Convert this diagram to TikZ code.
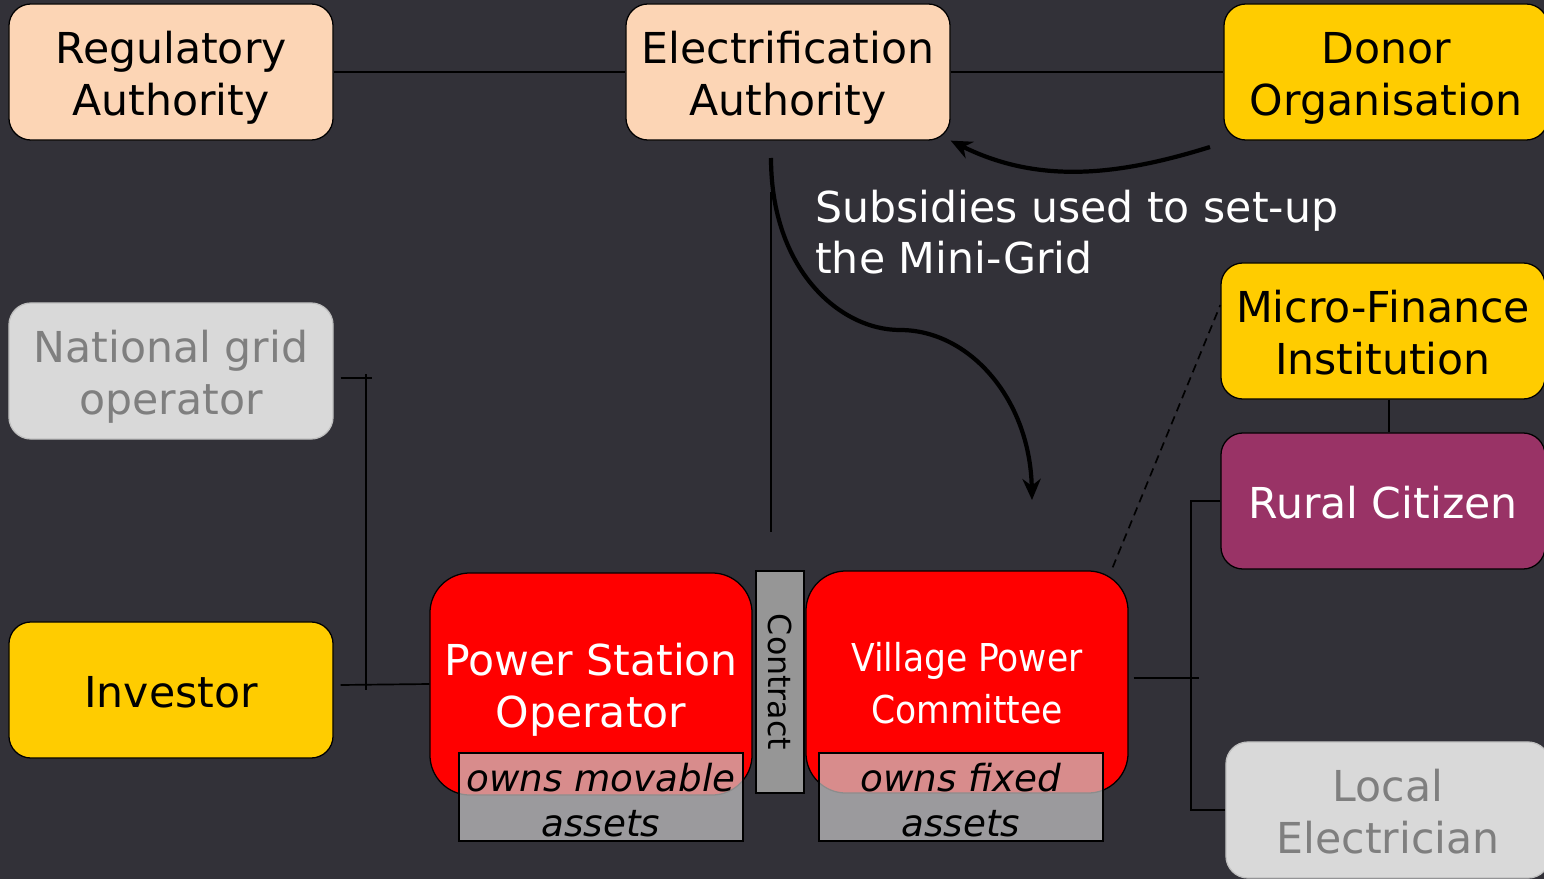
\documentclass[tikz,border=0pt]{standalone}
\usepackage{fontspec}
\setmainfont{DejaVu Sans}
\newfontfamily\condfont{DejaVu Sans Condensed}
\usetikzlibrary{arrows.meta, positioning, calc}
\definecolor{bgdark}{HTML}{323138}
\definecolor{peach}{HTML}{FCD5B5}
\definecolor{gold}{HTML}{FFCC00}
\definecolor{pale}{HTML}{D9D9D9}
\definecolor{paletext}{HTML}{7F7F7F}
\definecolor{paleline}{HTML}{BFBFBF}
\definecolor{plum}{HTML}{993366}
\definecolor{hotred}{HTML}{FF0000}
\definecolor{steel}{HTML}{969696}
\definecolor{assetgray}{HTML}{C8C8C8}
\newcommand\topstrut[1]{\rule{0pt}{#1}}
\newcommand\botstrut[1]{\rule[-#1]{0pt}{0pt}}

\begin{document}
\begin{tikzpicture}[
    x=0.025cm, y=-0.025cm,
    >=Stealth,
    strut ht/.store in=\actorstrut, strut ht=70pt,
    actor/.style={draw=black, line width=0.9pt, rounded corners=0.55cm, minimum width=8.1cm, minimum height=3.4cm,
                  inner sep=0pt, align=center, font=\fontsize{30.3}{37}\selectfont,
                  execute at begin node=\topstrut{\actorstrut}, execute at end node=\botstrut{7.5pt}},
    oneline/.style={strut ht=33pt},
    ghost/.style={actor, draw=paleline, fill=pale, text=paletext},
    core/.style={actor, fill=hotred, text=white, rounded corners=1cm, minimum width=8.05cm, minimum height=5.55cm},
    asset/.style={draw=black, line width=0.9pt, fill=assetgray, fill opacity=0.7, text opacity=1, minimum width=7.1cm,
                  minimum height=2.2cm, inner sep=0pt, align=center, font=\fontsize{26.5}{32.5}\selectfont\itshape,
                  execute at begin node=\topstrut{57pt}},
    link/.style={line width=1.2pt, black},
    flow/.style={-{Stealth[length=15pt, width=13pt]}, line width=3pt, black},
]
    \useasboundingbox (0,0) rectangle (1544,879);
    \fill[bgdark] (0,0) rectangle (1544,879);
    \clip (0,0) rectangle (1544,879);

    % Top row: authorities and donor
    \node[actor, fill=peach] (regulator) at (171,72) {Regulatory\\Authority};
    \node[actor, fill=peach] (electrify) at (788,72) {Electrification\\Authority};
    \node[actor, fill=gold] (donor) at (1386,72) {Donor\\Organisation};

    % Left column
    \node[ghost] (natgrid) at (171,371) {National grid\\operator};
    \node[actor, oneline, fill=gold] (investor) at (171,690) {Investor};

    % Mini-grid core
    \node[core] (operator) at (591,684) {Power Station\\Operator};
    \node[draw=black, line width=0.9pt, fill=steel, rotate=-90, minimum width=5.55cm, minimum height=1.2cm,
          inner sep=0pt, font=\fontsize{22.5}{27}\selectfont] (contract) at (780,682) {Contract};
    \node[core, font=\condfont\fontsize{27.3}{37}\selectfont, strut ht=67pt] (committee)
        at (967,682) {Village Power\\Committee};
    \node[asset] (movable) at (601,797) {owns movable\\assets};
    \node[asset] (fixed) at (961,797) {owns fixed\\assets};

    % Right column
    \node[actor, fill=gold] (mfi) at (1383,331) {Micro-Finance\\Institution};
    \node[actor, oneline, fill=plum, text=white] (citizen) at (1383,501) {Rural Citizen};
    \node[ghost] (electrician) at (1388,810) {Local\\Electrician};

    % Note
    \node[anchor=north west, align=left, text=white, inner sep=0pt, font=\fontsize{30.3}{36}\selectfont] (subsidy)
        at (815,190) {Subsidies used to set-up\\the Mini-Grid};

    % Top links
    \draw[link] (regulator) -- (electrify);
    \draw[link] (electrify) -- (donor);
    \coordinate (ctop) at (771,192);
    \coordinate (cbot) at (771,532);
    \draw[link] (ctop) -- (cbot);

    % Subsidy flow
    \coordinate (fstart) at (771,158);
    \coordinate (fbend) at (900,330);
    \coordinate (fend) at (1032,500);
    \draw[flow] (fstart) .. controls (771,270) and (840,330) .. (fbend) .. controls (970,330) and (1030,400) .. (fend);
    \coordinate (dstart) at (1210,147);
    \draw[flow] (dstart) .. controls (1120,175) and (1040,185) .. (electrify.south east);

    % Left bus
    \draw[link] ($(natgrid.east)+(7,7)$) -- ++(31,0);
    \coordinate (lbustop) at (366,374);
    \coordinate (lbusbot) at (366,690);
    \draw[link] (lbustop) -- (lbusbot);
    \draw[link] ($(investor.east)+(7,-5)$) -- (operator.west);

    % Right bus
    \draw[link] ($(committee.east)+(5,-4)$) -- ++(65,0);
    \draw[link] (citizen.west) -- ++(-29,0) |- (electrician.west);
    \draw[link] ([xshift=0.15cm]mfi.south) -- ([xshift=0.15cm]citizen.north);
    \draw[link, dash pattern=on 6pt off 4pt] ($(committee.north east)+(-16,-3)$) -- ($(mfi.west)+(0,-26)$);
\end{tikzpicture}
\end{document}
